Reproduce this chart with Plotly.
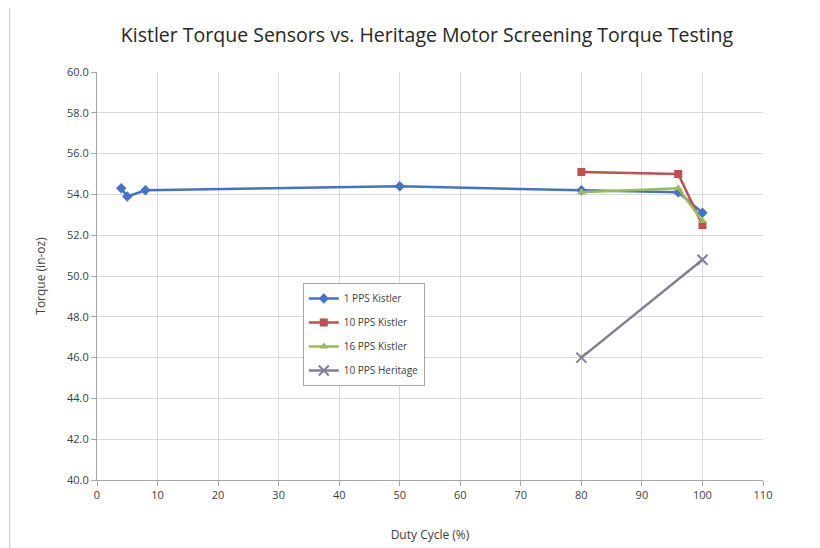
import plotly.graph_objects as go

s1_x = [4, 5, 8, 50, 80, 96, 100]
s1_y = [54.3, 53.9, 54.2, 54.4, 54.2, 54.1, 53.1]
s2_x = [80, 96, 100]
s2_y = [55.1, 55.0, 52.5]
s3_x = [80, 96, 100]
s3_y = [54.1, 54.3, 52.7]
s4_x = [80, 100]
s4_y = [46.0, 50.8]

names = ["1 PPS Kistler", "10 PPS Kistler", "16 PPS Kistler", "10 PPS Heritage"]
colors = ["#4472C4", "#C0504D", "#9BBB59", "#7F7F99"]
symbols = ["diamond", "square", "triangle-up", "x-thin"]

fig = go.Figure()
for i, (xs, ys, n, c, s) in enumerate(zip([s1_x, s2_x, s3_x, s4_x], [s1_y, s2_y, s3_y, s4_y], names, colors, symbols)):
    mk = dict(symbol=s, size=8, color=c)
    if s == "x-thin":
        mk = dict(symbol=s, size=10, color=c, line=dict(width=2, color=c))
    fig.add_trace(go.Scatter(x=xs, y=ys, name=n, mode="lines+markers", legendgroup=f"g{i}",
                             line=dict(color=c, width=2.5), marker=mk))

fig.update_layout(
    width=812, height=540,
    margin=dict(l=89, r=57, t=64, b=68),
    paper_bgcolor="white", plot_bgcolor="white",
    font=dict(family="Open Sans, Liberation Sans, sans-serif", color="#404040"),
    title=dict(text="Kistler Torque Sensors vs. Heritage Motor Screening Torque Testing",
               x=0.516, xanchor="center", y=0.95, yanchor="middle",
               font=dict(size=19.5, color="#262626")),
    xaxis=dict(range=[0, 110], dtick=10, showgrid=True, gridcolor="#D9D9D9",
               showline=True, linecolor="#A6A6A6", ticks="outside", ticklen=5,
               tickcolor="#A6A6A6", zeroline=False, tickfont=dict(size=11), automargin=False,
               title=dict(text="Duty Cycle (%)", font=dict(size=12), standoff=29)),
    yaxis=dict(range=[40, 60], dtick=2, tickformat=".1f", showgrid=True, gridcolor="#D9D9D9",
               showline=True, linecolor="#A6A6A6", ticks="outside", ticklen=5,
               tickcolor="#A6A6A6", zeroline=False, tickfont=dict(size=11), automargin=False,
               title=dict(text="Torque (in-oz)", font=dict(size=12), standoff=18)),
    legend=dict(x=0.309, y=0.483, xanchor="left", yanchor="top",
                bordercolor="#A6A6A6", borderwidth=1, bgcolor="white",
                font=dict(size=10), tracegroupgap=5, itemwidth=30),
    shapes=[dict(type="line", xref="paper", yref="paper", x0=-0.131, x1=-0.131, y0=-0.2, y1=1.2,
                 line=dict(color="#BFBFBF", width=1))],
)

fig.write_html("out.html")
